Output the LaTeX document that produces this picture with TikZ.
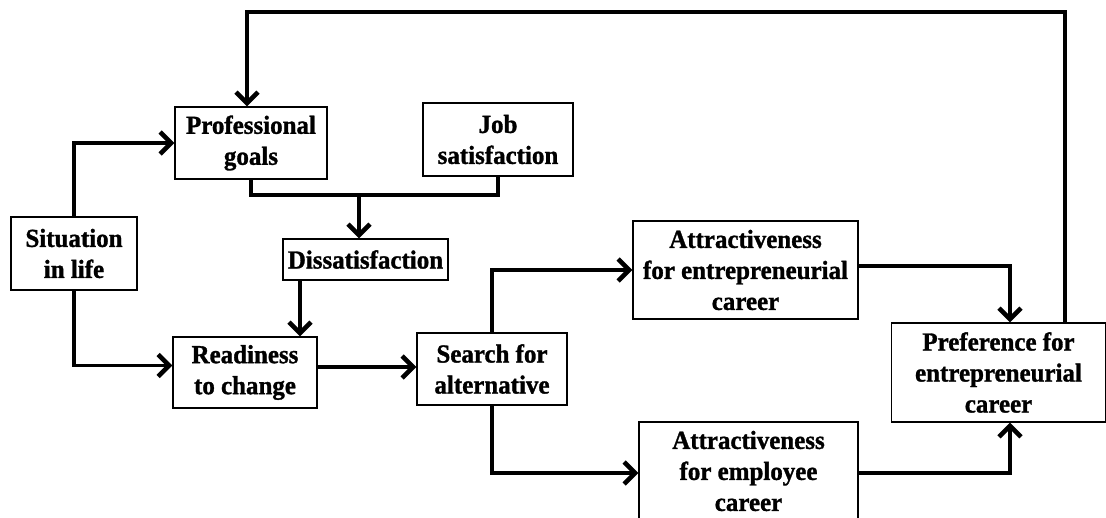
\documentclass[tikz,border=0pt]{standalone}
\usepackage{fontspec}
\setmainfont{Liberation Serif}[BoldFeatures={FakeBold=1.2,FakeStretch=0.96}]
\usetikzlibrary{arrows.meta,calc}
\begin{document}
\begin{tikzpicture}[x=1pt,y=-1pt,
  box/.style={draw,line width=1.4pt,align=center,inner sep=0pt,
    font=\fontsize{26}{31}\selectfont\bfseries},
  conn/.style={line width=3.2pt},
  arr/.style={conn,-{Straight Barb[length=11pt,width=22pt,line width=4.5pt]}}]
\clip (0,0) rectangle (1106,517);
\fill[white] (0,0) rectangle (1106,517);
\node[box,minimum width=126pt,minimum height=73pt] (sit) at (74,253.5) {Situation\\in life};
\node[box,minimum width=152pt,minimum height=72pt] (prof) at (251,143) {Professional\\goals};
\node[box,minimum width=150pt,minimum height=73pt] (job) at (498,139.5) {Job\\satisfaction};
\node[box,minimum width=165pt,minimum height=41pt] (dis) at (365.5,259.5) {Dissatisfaction};
\node[box,minimum width=144pt,minimum height=71pt] (ready) at (245,372.5) {Readiness\\to change};
\node[box,minimum width=150pt,minimum height=72pt] (search) at (492,369) {Search for\\alternative};
\node[box,minimum width=225pt,minimum height=98pt] (attrE) at (745.5,270) {Attractiveness\\for entrepreneurial\\career};
\node[box,minimum width=219pt,minimum height=98pt] (attrM) at (748.5,471) {Attractiveness\\for employee\\career};
\node[box,minimum width=214pt,minimum height=99pt] (pref) at (998.5,372.5) {Preference for\\entrepreneurial\\career};
\coordinate (cdis) at (300,0);
\coordinate (cjun) at (359,195);
\coordinate (cpref) at (1010,0);
\coordinate (cfb) at (1065,12);
\coordinate (cprof) at (247,0);
\coordinate (cemp) at (0,473);
% connectors
\draw[arr] (sit.north) |- (prof.west);
\draw[arr] (sit.south) |- ([yshift=7pt]ready.west);
\draw[conn] (prof.south) |- (cjun) -| (job.south);
\draw[arr] (cjun) -- (cjun |- dis.north);
\draw[arr] (dis.south -| cdis) -- (ready.north -| cdis);
\draw[arr,line width=4.8pt] ([yshift=2pt]search.west -| ready.east) -- ([yshift=2pt]search.west);
\draw[arr] (search.north) |- (attrE.west);
\draw[arr] (search.south) |- (attrM.west |- cemp);
\draw[arr] ([yshift=4pt]attrE.east) -| (pref.north -| cpref);
\draw[arr] (attrM.east |- cemp) -| (pref.south -| cpref);
\draw[arr] (pref.north -| cfb) |- (cfb -| cprof) -- (prof.north -| cprof);
\end{tikzpicture}
\end{document}
